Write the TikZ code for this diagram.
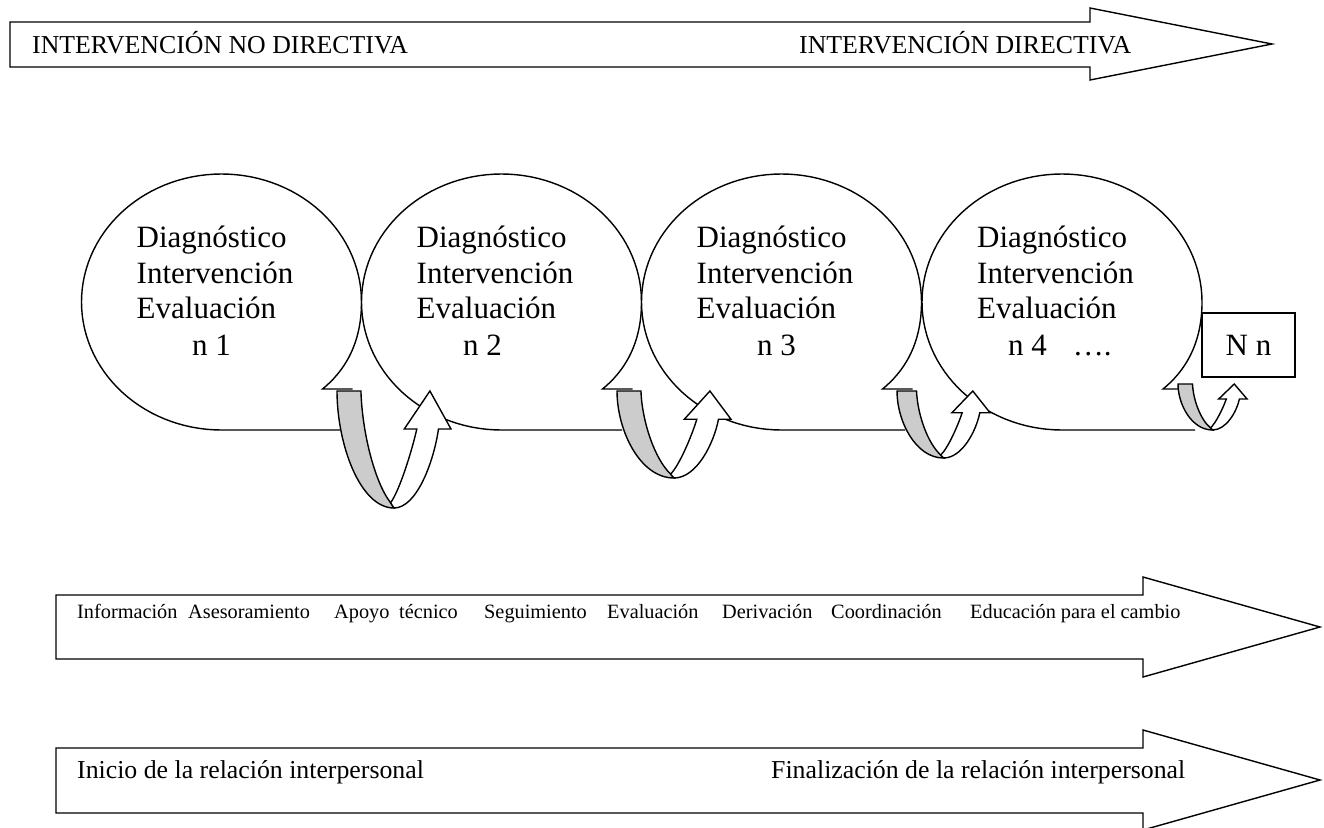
\documentclass[tikz,border=0pt]{standalone}
\usepackage{fontspec}
\setmainfont{Liberation Serif}
\tikzset{
  outl/.style={line width=1.4pt},
  bigtxt/.style={font=\fontsize{31}{36}\selectfont, anchor=base west, inner sep=0pt},
  lbltxt/.style={font=\fontsize{25.8}{30}\selectfont, anchor=base west, inner sep=0pt},
  smalltxt/.style={font=\fontsize{20.3}{24}\selectfont, anchor=base west, inner sep=0pt},
  backband/.style={fill=gray!40, draw=black, line width=1.4pt},
  frontband/.style={fill=white, draw=black, line width=1.4pt},
  blockarrow/.style={fill=white, draw=black, line width=1.4pt},
}
\newcommand{\mybubble}[2]{%
  \fill[white] ({#2},430) -- ({#1},430) -- plot[domain=90:360,samples=91] ({#1+140*cos(\x)},{302+128*sin(\x)})
     .. controls ({#1+140},345) and ({#1+122},372) .. ({#1+101},389) -- ({#1+131},389) -- cycle;
  \draw[outl] ({#2},430) -- ({#1},430) -- plot[domain=90:360,samples=91] ({#1+140*cos(\x)},{302+128*sin(\x)})
     .. controls ({#1+140},345) and ({#1+122},372) .. ({#1+101},389) -- ({#1+131},389);
}
\newcommand{\myuarrow}[4]{%
  \begin{scope}[shift={(#1,#2)},x=#3pt,y=-#4pt]
    \draw[backband] (0,0) -- (0.21,0) .. controls (0.22,0.35) and (0.33,0.78) .. (0.47,0.955)
       -- (0.5,1) .. controls (0.2,1) and (0,0.45) .. (0,0) -- cycle;
    \draw[frontband] (0.47,0.955) .. controls (0.55,0.85) and (0.66,0.5) .. (0.70,0.325)
       -- (0.59,0.325) -- (0.815,0) -- (1,0.325) -- (0.89,0.325)
       .. controls (0.85,0.6) and (0.7,1) .. (0.5,1) -- cycle;
  \end{scope}}
\begin{document}
\begin{tikzpicture}[x=1pt,y=-1pt]
\useasboundingbox (0,0) rectangle (1324,827);
% top arrow
\draw[blockarrow] (10,22) -- (1090,22) -- (1090,8) -- (1272,44) -- (1090,80) -- (1090,67) -- (10,67) -- cycle;
\node[lbltxt] (nodir) at (32,53) {INTERVENCIÓN NO DIRECTIVA};
\node[lbltxt] (dir) at (799,53) {INTERVENCIÓN DIRECTIVA};
% bubbles
\mybubble{221.5}{340}
\mybubble{501.5}{622}
\mybubble{781.5}{905}
\mybubble{1062}{1195}
\node[draw, line width=1.4pt, minimum width=93pt, minimum height=64pt, inner sep=0pt,
      font=\fontsize{31}{36}\selectfont] (nn) at (1248.5,345) {N n};
% bubble texts
\foreach \c/\n/\nx/\tag in {221.5/n 1/192/a, 501.5/n 2/463/b, 781.5/n 3/757/c}{
  \node[bigtxt] (diag\tag) at (\c-85,247) {Diagnóstico};
  \node[bigtxt] (int\tag) at (\c-85,283) {Intervención};
  \node[bigtxt] (eval\tag) at (\c-85,318) {Evaluación};
  \node[bigtxt] (num\tag) at (\nx,355) {\n};
}
\node[bigtxt] (diagd) at (977,247) {Diagnóstico};
\node[bigtxt] (intd) at (977,283) {Intervención};
\node[bigtxt] (evald) at (977,318) {Evaluación};
\node[bigtxt] (numd) at (1008,355) {n 4\hspace{26pt}….};
% curved arrows
\myuarrow{337}{391}{114}{117}
\myuarrow{617}{391}{114}{87}
\myuarrow{897}{391}{93}{67}
\myuarrow{1178}{384}{69}{46}
% middle arrow
\draw[blockarrow] (56,595) -- (1143,595) -- (1143,577) -- (1320,627) -- (1143,677) -- (1143,659) -- (56,659) -- cycle;
\node[smalltxt] (w1) at (77,618) {Información};
\node[smalltxt] (w2) at (188,618) {Asesoramiento};
\node[smalltxt] (w3) at (334,618) {Apoyo};
\node[smalltxt] (w4) at (399,618) {técnico};
\node[smalltxt] (w5) at (484,618) {Seguimiento};
\node[smalltxt] (w6) at (607,618) {Evaluación};
\node[smalltxt] (w7) at (722,618) {Derivación};
\node[smalltxt] (w8) at (831,618) {Coordinación};
\node[smalltxt] (w9) at (970,618) {Educación para el cambio};
% bottom arrow
\draw[blockarrow] (56,748) -- (1143,748) -- (1143,730) -- (1320,780) -- (1143,830) -- (1143,813) -- (56,813) -- cycle;
\node[lbltxt] (ini) at (77,778) {Inicio de la relación interpersonal};
\node[lbltxt] (fin) at (771,778) {Finalización de la relación interpersonal};
\end{tikzpicture}
\end{document}
